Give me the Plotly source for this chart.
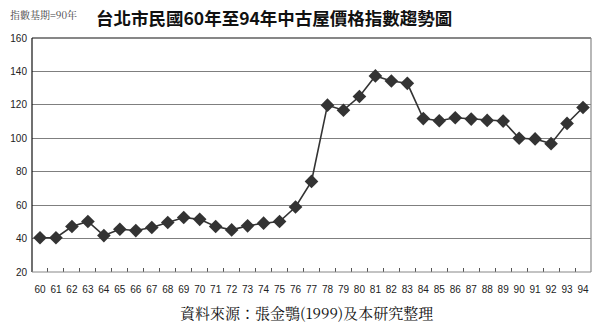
import plotly.graph_objects as go

years = [str(y) for y in range(60, 95)]
index_values = [40.5, 40.5, 47.2, 50.2, 41.8, 45.6, 44.8, 46.6, 49.6, 52.6,
                51.5, 47.2, 45.2, 47.6, 49.2, 50.2, 58.9, 74.2, 119.8, 116.8,
                125.0, 137.3, 134.3, 132.9, 111.8, 110.5, 112.3, 111.5, 110.7, 110.3,
                100.0, 99.6, 96.8, 108.9, 118.4]

y_ticks = [20, 40, 60, 80, 100, 120, 140, 160]

title_text = "台北市民國60年至94年中古屋價格指數趨勢圖"
base_text = "指數基期=90年"
source_text = "資料來源：張金鶚(1999)及本研究整理"

fig = go.Figure()
fig.add_trace(go.Scatter(
    x=years, y=index_values, mode="lines+markers",
    line=dict(color="#333333", width=1.6),
    marker=dict(symbol="diamond", size=10.5, color="#333333"),
    showlegend=False, hoverinfo="x+y", cliponaxis=False,
))

fig.update_layout(
    width=600, height=328, autosize=False,
    margin=dict(l=32, r=9, t=38, b=56, autoexpand=False),
    paper_bgcolor="white", plot_bgcolor="white",
    font=dict(family="Liberation Sans, Arial, sans-serif", size=10, color="#222"),
    xaxis=dict(
        type="category", tickmode="array", tickvals=years, ticktext=years,
        range=[-0.5, len(years) - 0.5], autorange=False,
        showgrid=False, showline=False, zeroline=False, automargin=False,
        ticks="inside", tickson="boundaries", ticklen=4, tickcolor="#555",
        tickangle=0, ticklabelstandoff=10,
        tickfont=dict(size=10, color="#222"),
    ),
    yaxis=dict(
        range=[20, 160], tickvals=y_ticks, automargin=False,
        showgrid=True, gridcolor="#7f7f7f", gridwidth=1.2,
        showline=False, zeroline=False, ticks="",
        tickfont=dict(size=10, color="#222"), ticklabelstandoff=4,
    ),
    shapes=[
        dict(type="line", xref="paper", yref="paper", x0=0, x1=0, y0=0, y1=1,
             line=dict(color="#111", width=1.2)),
        dict(type="line", xref="paper", yref="paper", x0=0, x1=1, y0=1, y1=1,
             line=dict(color="#111", width=1.2)),
        dict(type="line", xref="paper", yref="paper", x0=1, x1=1, y0=0, y1=1,
             line=dict(color="#888", width=1.2)),
        dict(type="line", xref="paper", yref="paper", x0=0, x1=1, y0=0, y1=0,
             line=dict(color="#888", width=1.2)),
    ],
    annotations=[
        dict(text="<b>" + title_text + "</b>", xref="paper", yref="paper", x=(274 - 32) / 559,
             y=1 + 21 / 234, xanchor="center", yanchor="middle", showarrow=False,
             font=dict(family="Noto Sans CJK TC, sans-serif", size=17.5, color="#111")),
        dict(text=base_text, xref="paper", yref="paper", x=-24 / 559,
             y=1 + 23 / 234, xanchor="left", yanchor="middle", showarrow=False,
             font=dict(family="Noto Serif CJK TC, serif", size=10, color="#444")),
        dict(text=source_text, xref="paper", yref="paper", x=(306 - 32) / 559,
             y=-40 / 234, xanchor="center", yanchor="middle", showarrow=False,
             font=dict(family="Noto Serif CJK TC, serif", size=15, color="#111")),
    ],
)

fig.write_html("out.html", config={"displayModeBar": False})
